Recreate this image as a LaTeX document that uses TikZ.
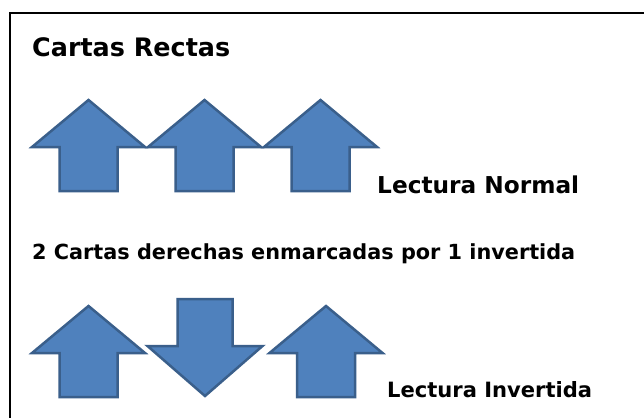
\documentclass[tikz,border=0pt]{standalone}
\usepackage{fontspec}
\setmainfont{DejaVu Sans}
\definecolor{arrfill}{HTML}{4F81BD}
\definecolor{arrdraw}{HTML}{3A5F8B}
\begin{document}
\begin{tikzpicture}[x=1pt,y=-1pt,
  lbl/.style={anchor=base west,inner sep=0pt,font=\bfseries},
  arr/.style={fill=arrfill,draw=arrdraw,line width=2.5pt,line join=miter}]
\useasboundingbox (0,0) rectangle (644,417);
\fill[white] (0,0) rectangle (644,417);
% frame
\draw[line width=2pt] (10,420) -- (10,13.5) -- (646,13.5);
% up arrow macro via pic
\tikzset{uparrow/.pic={\path[arr] (0,0) -- (56.5,47) -- (29,47) -- (29,91) -- (-29,91) -- (-29,47) -- (-56.5,47) -- cycle;},
         downarrow/.pic={\path[arr] (-27.5,0) -- (27.5,0) -- (27.5,47) -- (57.5,47) -- (0,97) -- (-57.5,47) -- (-27.5,47) -- cycle;}}
\pic at (88.5,100) {uparrow};
\pic at (204.5,100) {uparrow};
\pic at (320.5,100) {uparrow};
\pic at (88.5,306) {uparrow};
\pic at (205,299) {downarrow};
\pic at (326,306) {uparrow};
\node[lbl] (t1) at (32,57) {\resizebox{198pt}{!}{Cartas Rectas}};
\node[lbl] (t2) at (377,193) {\resizebox{202pt}{!}{Lectura Normal}};
\node[lbl] (t3) at (32,259) {\resizebox{543pt}{!}{2 Cartas derechas enmarcadas por 1 invertida}};
\node[lbl] (t4) at (387,397) {\resizebox{205pt}{!}{Lectura Invertida}};
\end{tikzpicture}
\end{document}
